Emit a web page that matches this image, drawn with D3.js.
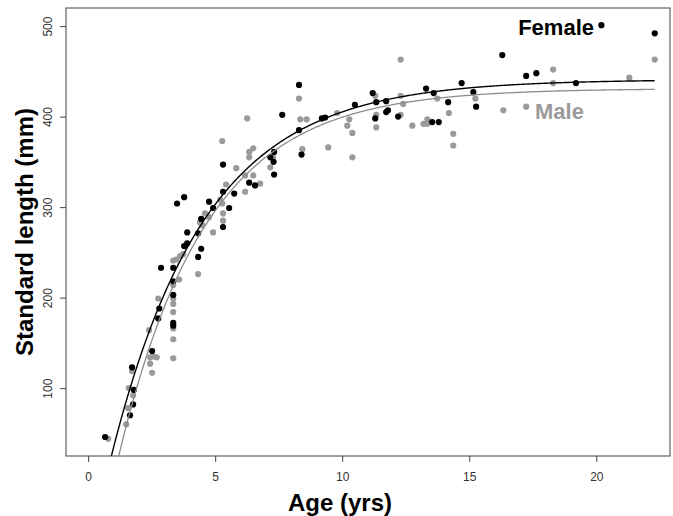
<!DOCTYPE html>
<html>
<head>
<meta charset="utf-8">
<script src="https://cdn.jsdelivr.net/npm/d3@7"></script>
<style>
  body { margin: 0; background: #fff; }
  text { font-family: "Liberation Sans", Arial, sans-serif; }
</style>
</head>
<body>
<svg id="chart" width="673" height="516"></svg>
<script>
// observed points, [age (yrs), standard length (mm)]
const femalePoints = [
  [0.67, 46], [1.73, 123], [1.8, 98], [1.77, 82], [1.65, 70],
  [2.52, 141], [2.76, 177], [2.8, 188], [2.87, 233], [3.35, 233],
  [3.35, 218], [3.35, 203], [3.35, 172], [3.35, 169], [3.5, 304],
  [3.78, 311], [3.9, 272], [3.78, 257], [3.9, 260], [4.33, 271],
  [4.45, 254], [4.33, 245], [4.45, 287], [4.76, 306], [4.92, 299],
  [5.31, 347], [5.31, 317], [5.31, 278], [5.55, 299], [5.75, 315],
  [6.34, 327], [6.57, 324], [7.32, 361], [7.3, 350], [7.32, 336],
  [7.17, 355], [7.64, 402], [8.3, 435], [8.3, 385], [8.4, 358],
  [9.2, 398], [9.33, 399], [10.5, 413], [11.2, 426], [11.34, 416],
  [11.3, 398], [11.73, 417], [11.73, 405], [11.8, 407], [12.2, 400],
  [13.3, 431], [13.6, 426], [13.54, 394], [13.8, 394], [14.17, 416],
  [14.7, 437], [15.16, 427], [15.27, 411], [16.3, 468], [17.24, 445],
  [17.64, 448], [19.2, 437], [20.2, 501], [22.3, 492]
];
const malePoints = [
  [0.79, 44], [1.5, 60], [1.57, 78], [1.77, 92], [1.6, 100],
  [1.73, 119], [2.52, 117], [2.44, 127], [2.44, 134], [2.7, 134],
  [2.55, 135], [2.4, 164], [2.76, 199], [3.35, 133], [3.35, 154],
  [3.35, 166], [3.35, 184], [3.35, 193], [3.35, 199], [3.35, 214],
  [3.35, 241], [3.46, 242], [3.62, 246], [3.74, 248], [3.58, 220],
  [4.33, 226], [4.49, 280], [4.6, 293], [4.76, 289], [4.92, 272],
  [4.4, 283], [5.2, 308], [5.28, 304], [5.31, 293], [5.31, 285],
  [5.43, 325], [5.83, 343], [6.18, 335], [6.18, 317], [6.5, 335],
  [6.77, 326], [6.34, 355], [6.34, 361], [6.5, 365], [7.17, 344],
  [7.28, 355], [5.28, 373], [6.26, 398], [8.3, 420], [8.35, 397],
  [8.6, 397], [8.43, 364], [9.45, 366], [9.8, 404], [10.2, 390],
  [10.28, 397], [10.4, 382], [10.4, 355], [11.3, 423], [11.34, 402],
  [11.34, 388], [12.3, 463], [12.3, 423], [12.4, 414], [12.3, 402],
  [12.76, 390], [13.2, 392], [13.35, 397], [13.35, 392], [13.74, 420],
  [14.2, 404], [14.37, 381], [14.37, 368], [15.24, 420], [16.34, 407],
  [17.24, 411], [18.3, 452], [18.3, 437], [21.3, 443], [22.3, 463]
];
// von Bertalanffy fits: [Linf, k, t0]
const femaleFit = [441, 0.27, 0.7];
const maleFit = [431, 0.29, 1.0];
const xTicks = [0, 5, 10, 15, 20];
const yTicks = [100, 200, 300, 400, 500];

const svg = d3.select('#chart');
const mLeft = 66, mRight = 670, mTop = 8, mBottom = 456;

const x = d3.scaleLinear().domain([-0.87, 22.9]).range([mLeft, mRight]);
const y = d3.scaleLinear().domain([25, 520]).range([mBottom, mTop]);

svg.append('clipPath').attr('id', 'clip')
  .append('rect').attr('x', mLeft).attr('y', mTop)
  .attr('width', mRight - mLeft).attr('height', mBottom - mTop);

svg.append('rect')
  .attr('x', mLeft).attr('y', mTop)
  .attr('width', mRight - mLeft).attr('height', mBottom - mTop)
  .attr('fill', 'none').attr('stroke', '#444').attr('stroke-width', 1);

const xAxis = svg.append('g')
  .attr('transform', `translate(0,${mBottom})`)
  .call(d3.axisBottom(x).tickValues(xTicks).tickSize(6).tickPadding(10));
const yAxis = svg.append('g')
  .attr('transform', `translate(${mLeft},0)`)
  .call(d3.axisLeft(y).tickValues(yTicks).tickSize(6));
[xAxis, yAxis].forEach(a => {
  a.select('.domain').remove();
  a.selectAll('line').attr('stroke', '#444');
  a.selectAll('text').attr('font-size', 12).attr('fill', '#333');
});
yAxis.selectAll('.tick text')
  .attr('transform', 'rotate(-90)')
  .attr('text-anchor', 'middle')
  .attr('x', 0).attr('y', -14).attr('dy', 0);

function vb(fit, t) {
  return fit[0] * (1 - Math.exp(-fit[1] * (t - fit[2])));
}
function curve(fit, t0) {
  return d3.range(t0, 22.31, 0.05).map(t => [t, vb(fit, t)]);
}
const line = d3.line().x(d => x(d[0])).y(d => y(d[1]));

const g = svg.append('g').attr('clip-path', 'url(#clip)');
g.selectAll('.m').data(malePoints).enter().append('circle')
  .attr('cx', d => x(d[0])).attr('cy', d => y(d[1])).attr('r', 3.1)
  .attr('fill', '#9a9a9a');
g.selectAll('.f').data(femalePoints).enter().append('circle')
  .attr('cx', d => x(d[0])).attr('cy', d => y(d[1])).attr('r', 3.1)
  .attr('fill', '#000');
g.append('path').attr('d', line(curve(maleFit, 1.05)))
  .attr('fill', 'none').attr('stroke', '#8c8c8c').attr('stroke-width', 1.3);
g.append('path').attr('d', line(curve(femaleFit, 0.8)))
  .attr('fill', 'none').attr('stroke', '#000').attr('stroke-width', 1.4);

svg.append('text').attr('x', 594).attr('y', 35).attr('text-anchor', 'end')
  .attr('font-size', 22).attr('font-weight', 'bold').attr('fill', '#000').text('Female');
svg.append('text').attr('x', 535).attr('y', 119)
  .attr('font-size', 22).attr('font-weight', 'bold').attr('fill', '#9a9a9a').text('Male');

svg.append('text').attr('x', 340).attr('y', 511).attr('text-anchor', 'middle')
  .attr('font-size', 24).attr('font-weight', 'bold').text('Age (yrs)');
svg.append('text').attr('transform', 'translate(33,232) rotate(-90)')
  .attr('text-anchor', 'middle')
  .attr('font-size', 24).attr('font-weight', 'bold').text('Standard length (mm)');
</script>
</body>
</html>
